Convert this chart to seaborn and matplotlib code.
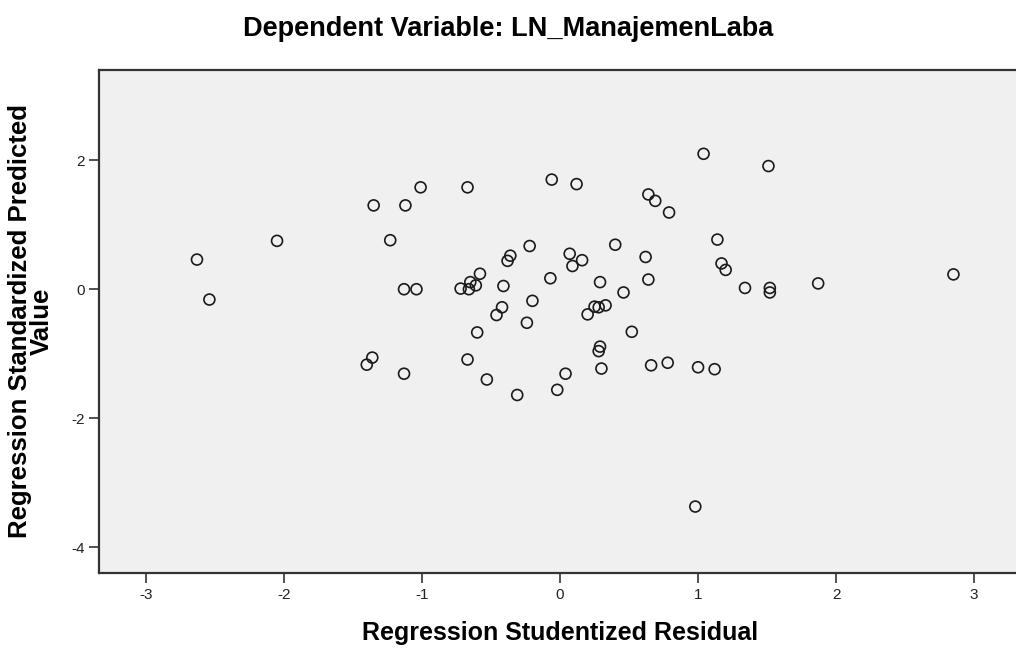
import matplotlib
matplotlib.use('Agg')
import matplotlib.pyplot as plt
import seaborn as sns
import pandas as pd

# studentized residual (x) vs standardized predicted value (y)
studentized_residual = [
    -2.63, -2.54, -2.05, -1.35, -1.12, -1.23, -1.01, -1.13, -1.04, -1.36,
    -1.40, -1.13, -0.67, -0.06, 0.12, 1.04, 0.64, 0.69, 0.79, 1.51,
    1.14, 1.17, 1.20, 1.34, 1.52, 1.52, 1.87, 2.85, -0.22, -0.36,
    -0.38, 0.07, 0.16, 0.09, 0.40, 0.62, 0.64, 0.29, 0.46, -0.07,
    -0.41, -0.58, -0.65, -0.61, -0.72, -0.66, -0.20, -0.42, -0.46, -0.24,
    -0.60, 0.20, 0.25, 0.28, 0.33, 0.52, 0.29, 0.28, 0.30, 0.04,
    -0.02, -0.31, -0.53, -0.67, 0.66, 0.78, 1.00, 1.12, 0.98,
]
standardized_predicted = [
    0.46, -0.16, 0.75, 1.30, 1.30, 0.76, 1.58, 0.00, 0.00, -1.06,
    -1.17, -1.31, 1.58, 1.70, 1.63, 2.10, 1.47, 1.37, 1.19, 1.91,
    0.77, 0.40, 0.30, 0.02, 0.02, -0.05, 0.09, 0.23, 0.67, 0.52,
    0.44, 0.55, 0.45, 0.36, 0.69, 0.50, 0.15, 0.11, -0.05, 0.17,
    0.05, 0.24, 0.11, 0.06, 0.01, 0.00, -0.18, -0.28, -0.40, -0.52,
    -0.67, -0.39, -0.27, -0.28, -0.25, -0.66, -0.89, -0.96, -1.23, -1.31,
    -1.56, -1.64, -1.40, -1.09, -1.18, -1.14, -1.21, -1.24, -3.37,
]
x_ticks = [-3, -2, -1, 0, 1, 2, 3]
y_ticks = [-4, -2, 0, 2]

df = pd.DataFrame({'resid': studentized_residual, 'pred': standardized_predicted})

sns.set_style('white')
plt.rcParams['font.family'] = ['Liberation Sans', 'DejaVu Sans']
plt.rcParams['axes.unicode_minus'] = False
plt.rcParams['text.color'] = 'black'
plt.rcParams['axes.labelcolor'] = 'black'

fig = plt.figure(figsize=(10.16, 6.57), dpi=100)
ax = fig.add_axes([0.0974, 0.1279, 0.9076, 0.7656])
ax.set_facecolor('#f0f0f0')

sns.scatterplot(x='resid', y='pred', data=df, ax=ax, marker='o', s=62,
                facecolor='none', edgecolor='#1a1a1a', linewidth=1.2)

ax.set_xlim(-3.34, 3.34)
ax.set_ylim(-4.40, 3.40)
ax.set_xticks(x_ticks)
ax.set_yticks(y_ticks)
ax.tick_params(axis='both', direction='out', length=7, width=1.2, color='#333333',
               labelsize=11, labelcolor='#222222', bottom=True, left=True)
for side in ax.spines.values():
    side.set_color('#333333')
    side.set_linewidth(1.6)

ax.set_xlabel('Regression Studentized Residual', fontsize=18, fontweight='bold', labelpad=14)
ax.set_ylabel('Regression Standardized Predicted\nValue', fontsize=18.5, fontweight='bold',
              linespacing=0.88)
ax.yaxis.set_label_coords(-0.049, 0.5)
fig.suptitle('Dependent Variable: LN_ManajemenLaba', fontsize=19.5, fontweight='bold', y=0.975)

fig.savefig('out.png', dpi=100)
